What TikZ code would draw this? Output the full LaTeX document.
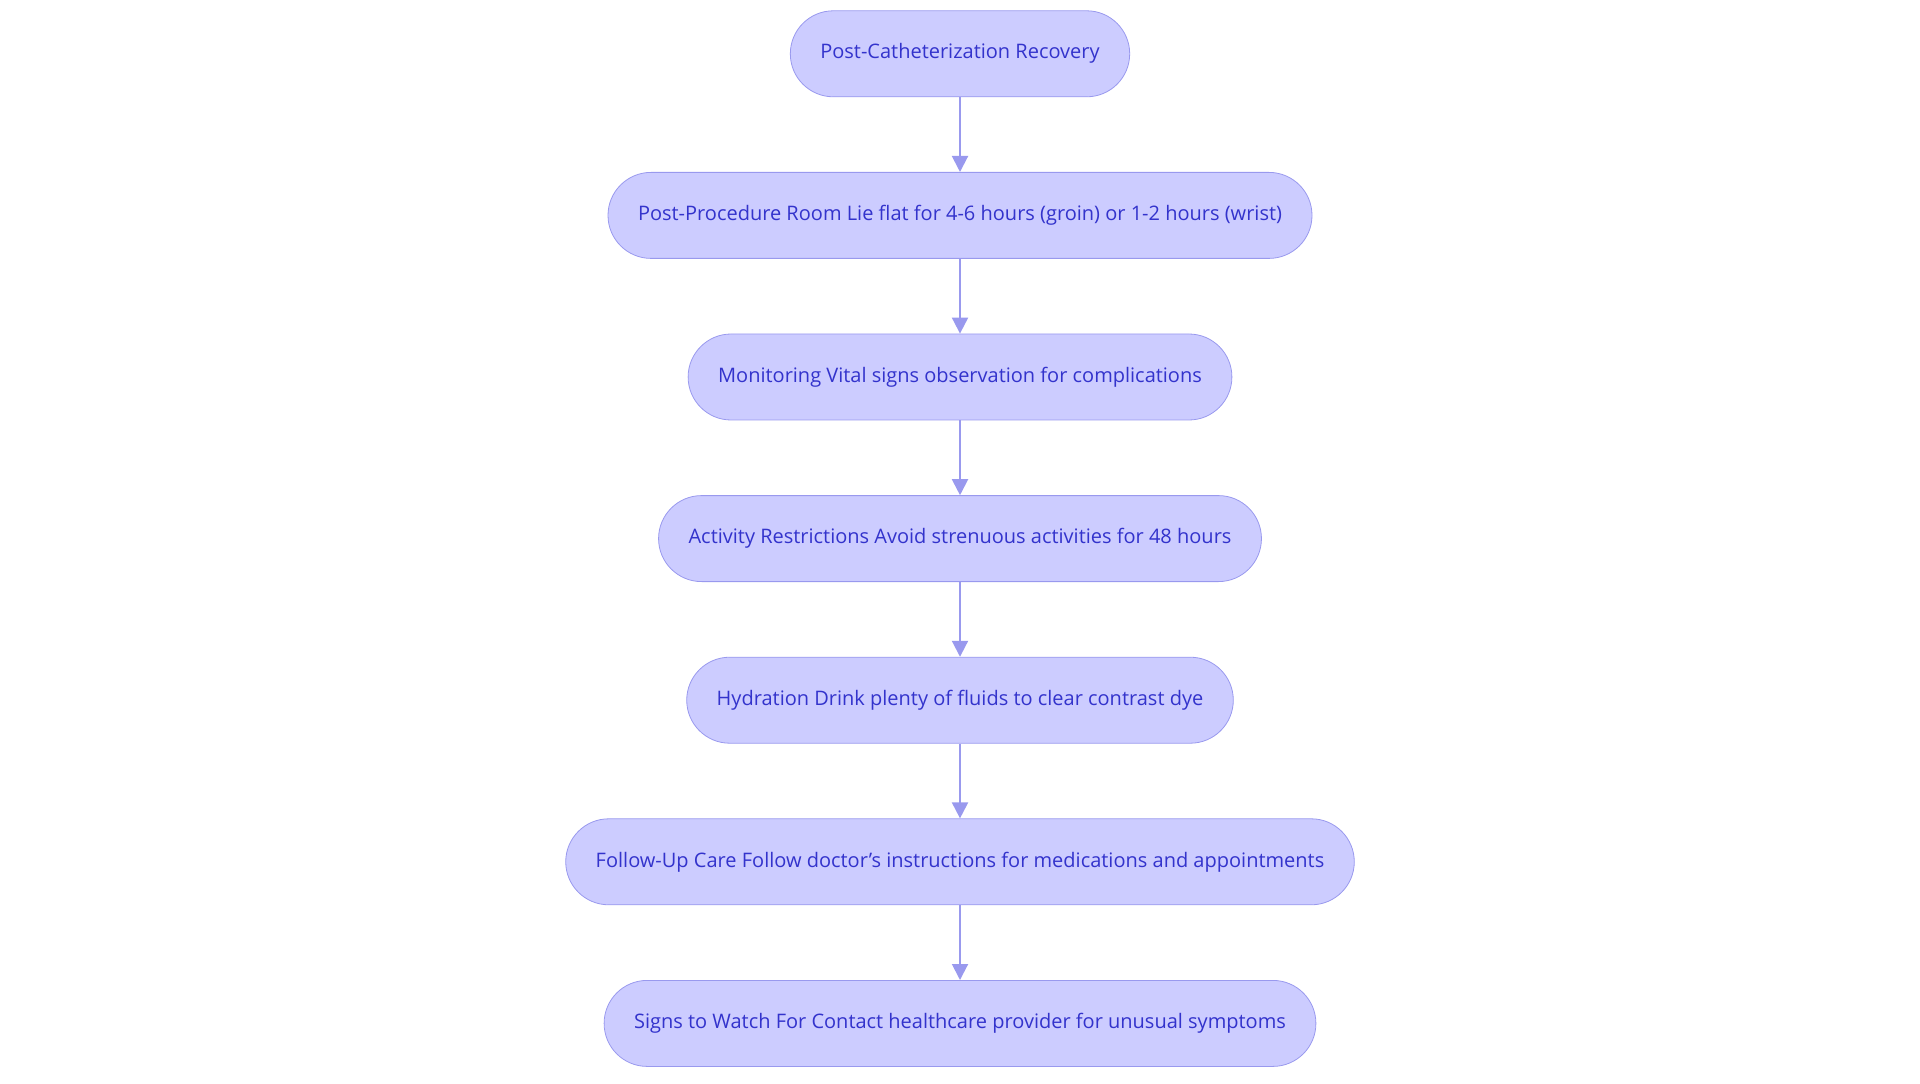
\documentclass[tikz,border=0pt]{standalone}
\usepackage{fontspec}
\setmainfont{Open Sans}
\usetikzlibrary{positioning,arrows.meta}
\definecolor{boxfill}{HTML}{CCCCFF}
\definecolor{boxline}{HTML}{9999EE}
\definecolor{boxtext}{HTML}{3333CC}
\begin{document}
\begin{tikzpicture}[x=1pt,y=1pt,
  stage/.style={draw=boxline,fill=boxfill,text=boxtext,rounded corners=21.5pt,
    minimum height=43pt,inner xsep=15pt,font=\fontsize{10}{12}\selectfont},
  link/.style={draw=boxline,line width=1pt,-{Triangle[length=8pt,width=8pt]}}]
\useasboundingbox (0,0) rectangle (960,541.5);
\node[stage] (recovery) at (480,514.6) {Post-Catheterization Recovery};
\node[stage,below=37.4pt of recovery] (room) {Post-Procedure Room Lie flat for 4-6 hours (groin) or 1-2 hours (wrist)};
\node[stage,below=37.4pt of room] (monitor) {Monitoring Vital signs observation for complications};
\node[stage,below=37.4pt of monitor] (activity) {Activity Restrictions Avoid strenuous activities for 48 hours};
\node[stage,below=37.4pt of activity] (hydration) {Hydration Drink plenty of fluids to clear contrast dye};
\node[stage,below=37.4pt of hydration] (followup) {Follow-Up Care Follow doctor’s instructions for medications and appointments};
\node[stage,below=37.4pt of followup] (signs) {Signs to Watch For Contact healthcare provider for unusual symptoms};
\draw[link] (recovery) -- (room);
\draw[link] (room) -- (monitor);
\draw[link] (monitor) -- (activity);
\draw[link] (activity) -- (hydration);
\draw[link] (hydration) -- (followup);
\draw[link] (followup) -- (signs);
\end{tikzpicture}
\end{document}
